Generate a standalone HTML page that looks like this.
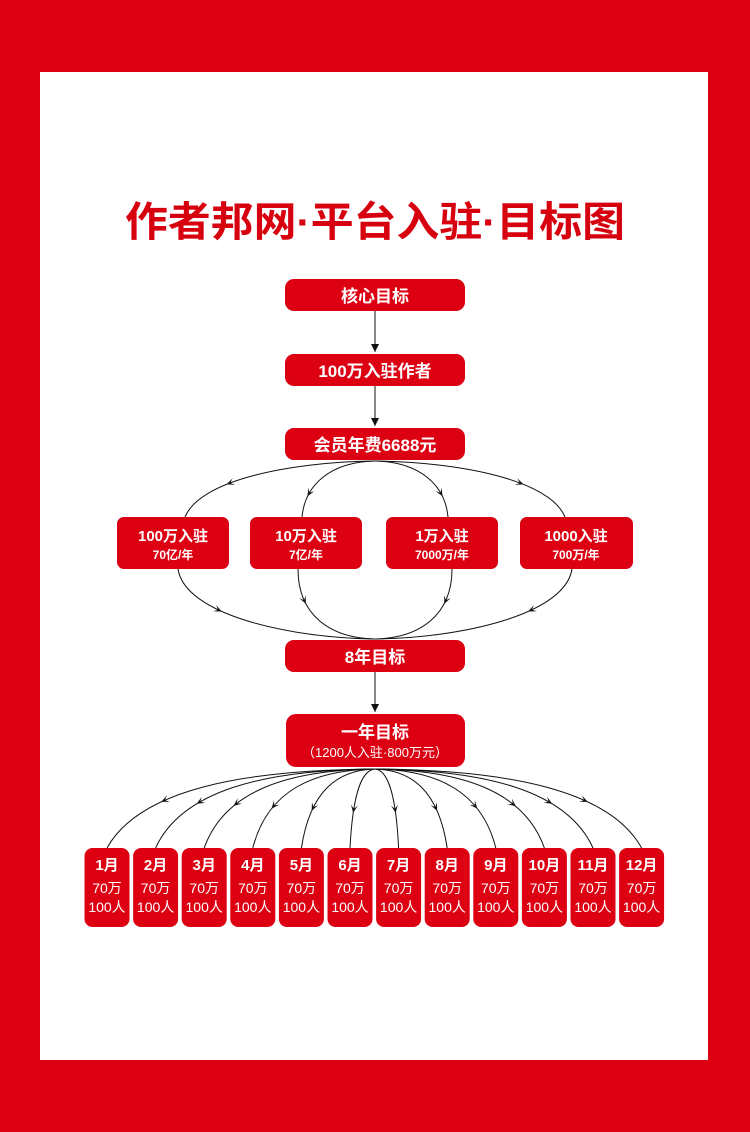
<!DOCTYPE html>
<html><head><meta charset="utf-8"><style>
html,body{margin:0;padding:0;background:#dc0012;}
svg{display:block}
text{font-family:"Liberation Sans","Noto Sans CJK SC",sans-serif;font-weight:bold;fill:#fff}
</style></head><body>
<svg id="s" width="750" height="1132" viewBox="0 0 750 1132" xmlns="http://www.w3.org/2000/svg">
<rect x="0" y="0" width="750" height="1132" fill="#dc0012"/>
<rect x="40" y="72" width="668" height="988" fill="#fff"/>
<text x="375" y="236" text-anchor="middle" font-size="41" style="fill:#d7000f" textLength="500" lengthAdjust="spacingAndGlyphs">作者邦网·平台入驻·目标图</text>
<g fill="none" stroke="#111" stroke-width="1">
<line x1="375" y1="311" x2="375" y2="352"/>
<line x1="375" y1="386" x2="375" y2="426"/>
<line x1="375" y1="672" x2="375" y2="712"/>
</g>
<g fill="#111">
<polygon points="371,344 379,344 375,352"/>
<polygon points="371,418 379,418 375,426"/>
<polygon points="371,704 379,704 375,712"/>
</g>
<g id="curves" fill="none" stroke="#111" stroke-width="1"></g>
<g id="arrows" fill="#111"></g>
<g fill="#dc0012">
<rect x="285" y="279" width="180" height="32" rx="9"/>
<rect x="285" y="354" width="180" height="32" rx="9"/>
<rect x="285" y="428" width="180" height="32" rx="9"/>
<rect x="117" y="517" width="112" height="52" rx="7"/>
<rect x="250" y="517" width="112" height="52" rx="7"/>
<rect x="386" y="517" width="112" height="52" rx="7"/>
<rect x="520" y="517" width="113" height="52" rx="7"/>
<rect x="285" y="640" width="180" height="32" rx="9"/>
<rect x="286" y="714" width="179" height="53" rx="10"/>
</g>
<g text-anchor="middle">
<text x="375" y="302" font-size="17">核心目标</text>
<text x="375" y="377" font-size="17">100万入驻作者</text>
<text x="375" y="451" font-size="17">会员年费6688元</text>
<text x="173" y="541" font-size="15">100万入驻</text>
<text x="173" y="559" font-size="12">70亿/年</text>
<text x="306" y="541" font-size="15">10万入驻</text>
<text x="306" y="559" font-size="12">7亿/年</text>
<text x="442" y="541" font-size="15">1万入驻</text>
<text x="442" y="559" font-size="12">7000万/年</text>
<text x="576" y="541" font-size="15">1000入驻</text>
<text x="576" y="559" font-size="12">700万/年</text>
<text x="375" y="663" font-size="17">8年目标</text>
<text x="375" y="738" font-size="17">一年目标</text>
<text x="375" y="757" font-size="13" style="font-weight:normal">（1200人入驻·800万元）</text>
</g>
<g id="months"></g>
</svg>
<script>
var NS="http://www.w3.org/2000/svg";
var C=document.getElementById('curves'),A=document.getElementById('arrows'),M=document.getElementById('months');
function el(t,a,p){var e=document.createElementNS(NS,t);for(var k in a)e.setAttribute(k,a[k]);p.appendChild(e);return e;}
function bez(p,t){var u=1-t;return [u*u*u*p[0][0]+3*u*u*t*p[1][0]+3*u*t*t*p[2][0]+t*t*t*p[3][0],u*u*u*p[0][1]+3*u*u*t*p[1][1]+3*u*t*t*p[2][1]+t*t*t*p[3][1]];}
function curve(p,ty){
 el('path',{d:'M'+p[0]+' C'+p[1]+' '+p[2]+' '+p[3]},C);
 var best=0.5,bd=1e9;for(var s=0.02;s<0.98;s+=0.005){var q=bez(p,s);var dd=Math.abs(q[1]-ty);if(dd<bd){bd=dd;best=s;}}
 var t=best;
 var a=bez(p,t),b=bez(p,t+0.01);var dx=b[0]-a[0],dy=b[1]-a[1],L=Math.hypot(dx,dy);dx/=L;dy/=L;
 var tip=[a[0]+dx*4,a[1]+dy*4],bx=a[0]-dx*4,by=a[1]-dy*4;
 el('polygon',{points:tip[0]+','+tip[1]+' '+(bx-dy*3.5)+','+(by+dx*3.5)+' '+(a[0])+','+(a[1])+' '+(bx+dy*3.5)+','+(by-dx*3.5)},A);
}
curve([[375,461],[290,462],[200,480],[185,517]],483);
curve([[375,461],[330,462],[305,485],[302,517]],493);
curve([[375,461],[420,462],[445,485],[448,517]],493);
curve([[375,461],[460,462],[550,480],[565,517]],483);
curve([[178,569],[185,615],[290,638],[375,639]],610);
curve([[298,569],[298,615],[330,638],[375,639]],600);
curve([[452,569],[452,615],[420,638],[375,639]],600);
curve([[572,569],[565,615],[460,638],[375,639]],610);
for(var i=0;i<12;i++){
 var cx=107+i*48.6;var x=cx-22.5;
 var d=cx-375;
 var ty=800+10*(1-Math.abs(d)/268);
 curve([[375,769],[375+d*0.5,770],[cx-d*0.12,790],[cx,848]],ty);
 el('rect',{x:x,y:848,width:45,height:79,rx:8,fill:'#dc0012'},M);
 var t=el('text',{x:cx,y:870,'text-anchor':'middle','font-size':15},M);t.textContent=(i+1)+'月';
 t=el('text',{x:cx,y:893,'text-anchor':'middle','font-size':14,style:'font-weight:normal'},M);t.textContent='70万';
 t=el('text',{x:cx,y:912,'text-anchor':'middle','font-size':14,style:'font-weight:normal'},M);t.textContent='100人';
}
</script>
</body></html>
